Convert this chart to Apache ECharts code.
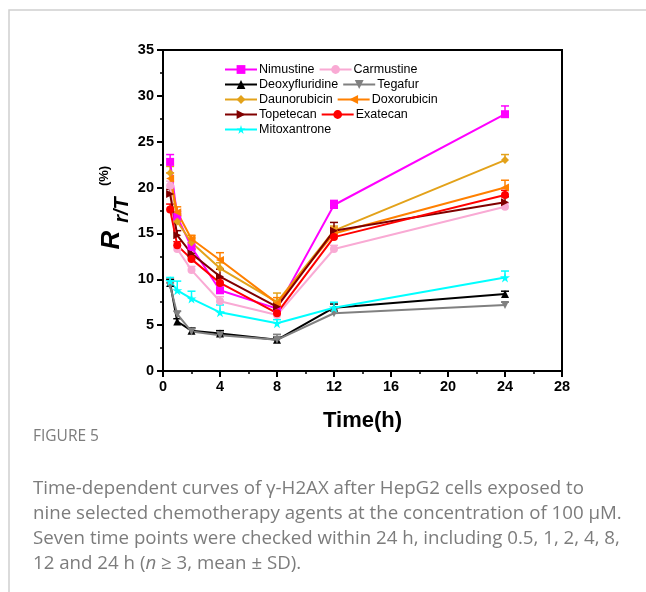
<!DOCTYPE html>
<html>
<head>
<meta charset="utf-8">
<script src="https://cdn.jsdelivr.net/npm/echarts@6/dist/echarts.min.js"></script>
<style>
html, body { margin: 0; padding: 0; background: #fff; }
#chart { width: 646px; height: 592px; }
</style>
</head>
<body>
<div id="chart"></div>
<script>
// 时间点 (h)
var times = [0.5, 1, 2, 4, 8, 12, 24];

// 各药物 R r/T (%) 均值与 SD
var nimustine      = [22.8, 16.8, 13.5, 8.8, 6.8, 18.1, 28.0];
var nimustineSd    = [0.8, 0.6, 0.5, 0.6, 0.5, 0.5, 0.9];
var carmustine     = [20.2, 13.3, 11.0, 7.6, 6.1, 13.3, 17.9];
var carmustineSd   = [0.5, 0.4, 0.4, 0.5, 0.4, 0.4, 0.4];
var deoxyfluridine = [9.6, 5.4, 4.4, 4.1, 3.4, 6.9, 8.4];
var deoxyfluridineSd = [0.4, 0.3, 0.3, 0.3, 0.3, 0.4, 0.3];
var tegafur        = [9.3, 6.2, 4.3, 3.9, 3.4, 6.3, 7.2];
var tegafurSd      = [0.3, 0.3, 0.3, 0.3, 0.6, 0.3, 0.3];
var daunorubicin   = [21.6, 16.3, 14.0, 11.2, 7.5, 15.3, 23.0];
var daunorubicinSd = [0.7, 0.6, 0.5, 0.6, 1.0, 0.5, 0.6];
var doxorubicin    = [21.0, 17.3, 14.4, 12.1, 7.4, 15.0, 20.0];
var doxorubicinSd  = [0.6, 0.6, 0.4, 0.8, 0.6, 0.6, 0.8];
var topetecan      = [19.3, 14.8, 12.8, 10.3, 7.0, 15.3, 18.4];
var topetecanSd    = [0.5, 0.5, 0.5, 0.8, 0.5, 0.9, 0.6];
var exatecan       = [17.6, 13.7, 12.2, 9.6, 6.3, 14.6, 19.2];
var exatecanSd     = [0.6, 0.4, 0.4, 0.5, 0.4, 0.4, 0.5];
var mitoxantrone   = [9.8, 8.8, 7.9, 6.4, 5.2, 6.9, 10.2];
var mitoxantroneSd = [0.4, 1.0, 0.8, 0.8, 0.4, 0.6, 0.7];

var xTicks = [0, 4, 8, 12, 16, 20, 24, 28];
var yTicks = [0, 5, 10, 15, 20, 25, 30, 35];

var star = 'path://M50,0 L61,35 L98,35 L68,57 L79,91 L50,70 L21,91 L32,57 L2,35 L39,35 Z';

var drugs = [
  { name: 'Nimustine', v: nimustine, sd: nimustineSd, color: '#ff00ff', symbol: 'rect', rot: 0 },
  { name: 'Carmustine', v: carmustine, sd: carmustineSd, color: '#f9aad4', symbol: 'circle', rot: 0 },
  { name: 'Deoxyfluridine', v: deoxyfluridine, sd: deoxyfluridineSd, color: '#000000', symbol: 'triangle', rot: 0 },
  { name: 'Tegafur', v: tegafur, sd: tegafurSd, color: '#808080', symbol: 'triangle', rot: 180 },
  { name: 'Daunorubicin', v: daunorubicin, sd: daunorubicinSd, color: '#e3a21a', symbol: 'diamond', rot: 0 },
  { name: 'Doxorubicin', v: doxorubicin, sd: doxorubicinSd, color: '#ff8000', symbol: 'triangle', rot: 90 },
  { name: 'Topetecan', v: topetecan, sd: topetecanSd, color: '#800000', symbol: 'triangle', rot: -90 },
  { name: 'Exatecan', v: exatecan, sd: exatecanSd, color: '#ff0000', symbol: 'circle', rot: 0 },
  { name: 'Mitoxantrone', v: mitoxantrone, sd: mitoxantroneSd, color: '#00ffff', symbol: star, rot: 0 }
];

var series = [];
drugs.forEach(function (d) {
  var pts = times.map(function (t, i) { return [t, d.v[i]]; });
  var errPts = times.map(function (t, i) { return [t, d.v[i], d.v[i] + d.sd[i]]; });
  // 误差棒（仅向上）
  series.push({
    type: 'custom',
    name: d.name + '_err',
    data: errPts,
    silent: true,
    z: 1,
    renderItem: function (params, api) {
      var p0 = api.coord([api.value(0), api.value(1)]);
      var p1 = api.coord([api.value(0), api.value(2)]);
      return {
        type: 'group',
        children: [
          { type: 'line', shape: { x1: p0[0], y1: p0[1], x2: p1[0], y2: p1[1] }, style: { stroke: d.color, lineWidth: 1.5 } },
          { type: 'line', shape: { x1: p1[0] - 4, y1: p1[1], x2: p1[0] + 4, y2: p1[1] }, style: { stroke: d.color, lineWidth: 1.5 } }
        ]
      };
    }
  });
  series.push({
    type: 'line',
    name: d.name,
    data: pts,
    color: d.color,
    symbol: d.symbol,
    symbolRotate: d.rot,
    symbolSize: d.symbol === star ? 10 : 8,
    showAllSymbol: true,
    lineStyle: { width: 2, color: d.color },
    itemStyle: { color: d.color },
    z: 2
  });
});

var legendRows = [
  ['Nimustine', 'Carmustine'],
  ['Deoxyfluridine', 'Tegafur'],
  ['Daunorubicin', 'Doxorubicin'],
  ['Topetecan', 'Exatecan'],
  ['Mitoxantrone']
];
var legends = legendRows.map(function (row, i) {
  return {
    data: row,
    left: 224,
    top: 63 + i * 15,
    orient: 'horizontal',
    itemWidth: 32,
    itemHeight: 11,
    itemGap: 4,
    padding: 0,
    selectedMode: false,
    textStyle: { fontFamily: 'Liberation Sans', fontSize: 12.5, color: '#000', padding: [0, 0, 0, -3] }
  };
});

var chart = echarts.init(document.getElementById('chart'));
chart.setOption({
  animation: false,
  backgroundColor: '#fff',
  legend: legends,
  grid: {
    left: 163, right: 84, top: 50, bottom: 221,
    show: true, borderColor: '#000', borderWidth: 2
  },
  xAxis: {
    type: 'value', min: xTicks[0], max: xTicks[xTicks.length - 1], interval: 4,
    axisLine: { lineStyle: { color: '#000', width: 2 } },
    axisTick: { length: 6, lineStyle: { width: 2, color: '#000' } },
    minorTick: { show: true, splitNumber: 2, length: 3, lineStyle: { width: 1.5, color: '#000' } },
    splitLine: { show: false },
    axisLabel: { color: '#000', fontWeight: 'bold', fontSize: 14.5, fontFamily: 'Liberation Sans', margin: 8 },
    name: 'Time(h)', nameLocation: 'middle', nameGap: 39,
    nameTextStyle: { color: '#000', fontWeight: 'bold', fontSize: 22, fontFamily: 'Liberation Sans' }
  },
  yAxis: {
    type: 'value', min: yTicks[0], max: yTicks[yTicks.length - 1], interval: 5,
    axisLine: { lineStyle: { color: '#000', width: 2 } },
    axisTick: { length: 6, lineStyle: { width: 2, color: '#000' } },
    minorTick: { show: true, splitNumber: 2, length: 3, lineStyle: { width: 1.5, color: '#000' } },
    splitLine: { show: false },
    axisLabel: { color: '#000', fontWeight: 'bold', fontSize: 14.5, fontFamily: 'Liberation Sans', margin: 9 }
  },
  graphic: [
    { type: 'rect', shape: { x: 9, y: 10, width: 700, height: 600 }, style: { fill: null, stroke: '#d0d0d0', lineWidth: 1.5 }, silent: true },
    { type: 'text', x: 112, y: 240, rotation: Math.PI / 2,
      style: { text: 'R', font: 'italic bold 26px "Liberation Sans"', fill: '#000', align: 'center', verticalAlign: 'middle' } },
    { type: 'text', x: 122, y: 210, rotation: Math.PI / 2,
      style: { text: 'r/T', font: 'italic bold 20px "Liberation Sans"', fill: '#000', align: 'center', verticalAlign: 'middle' } },
    { type: 'text', x: 104, y: 176, rotation: Math.PI / 2,
      style: { text: '(%)', font: 'bold 13px "Liberation Sans"', fill: '#000', align: 'center', verticalAlign: 'middle' } },
    { type: 'text', x: 33, y: 437,
      style: { text: 'FIGURE 5', font: '15.5px "Open Sans"', fill: '#7c7c7c', verticalAlign: 'middle' } },
    { type: 'text', x: 33, y: 476,
      style: {
        text: 'Time-dependent curves of γ-H2AX after HepG2 cells exposed to\nnine selected chemotherapy agents at the concentration of 100 μM.\nSeven time points were checked within 24 h, including 0.5, 1, 2, 4, 8,\n12 and 24 h ({i|n} ≥ 3, mean ± SD).',
        font: '18.7px "Open Sans"', fill: '#7c7c7c', lineHeight: 25,
        rich: { i: { fontStyle: 'italic', fontFamily: 'Open Sans', fontSize: 18.7, fill: '#7c7c7c' } }
      } }
  ],
  series: series
});
</script>
</body>
</html>
